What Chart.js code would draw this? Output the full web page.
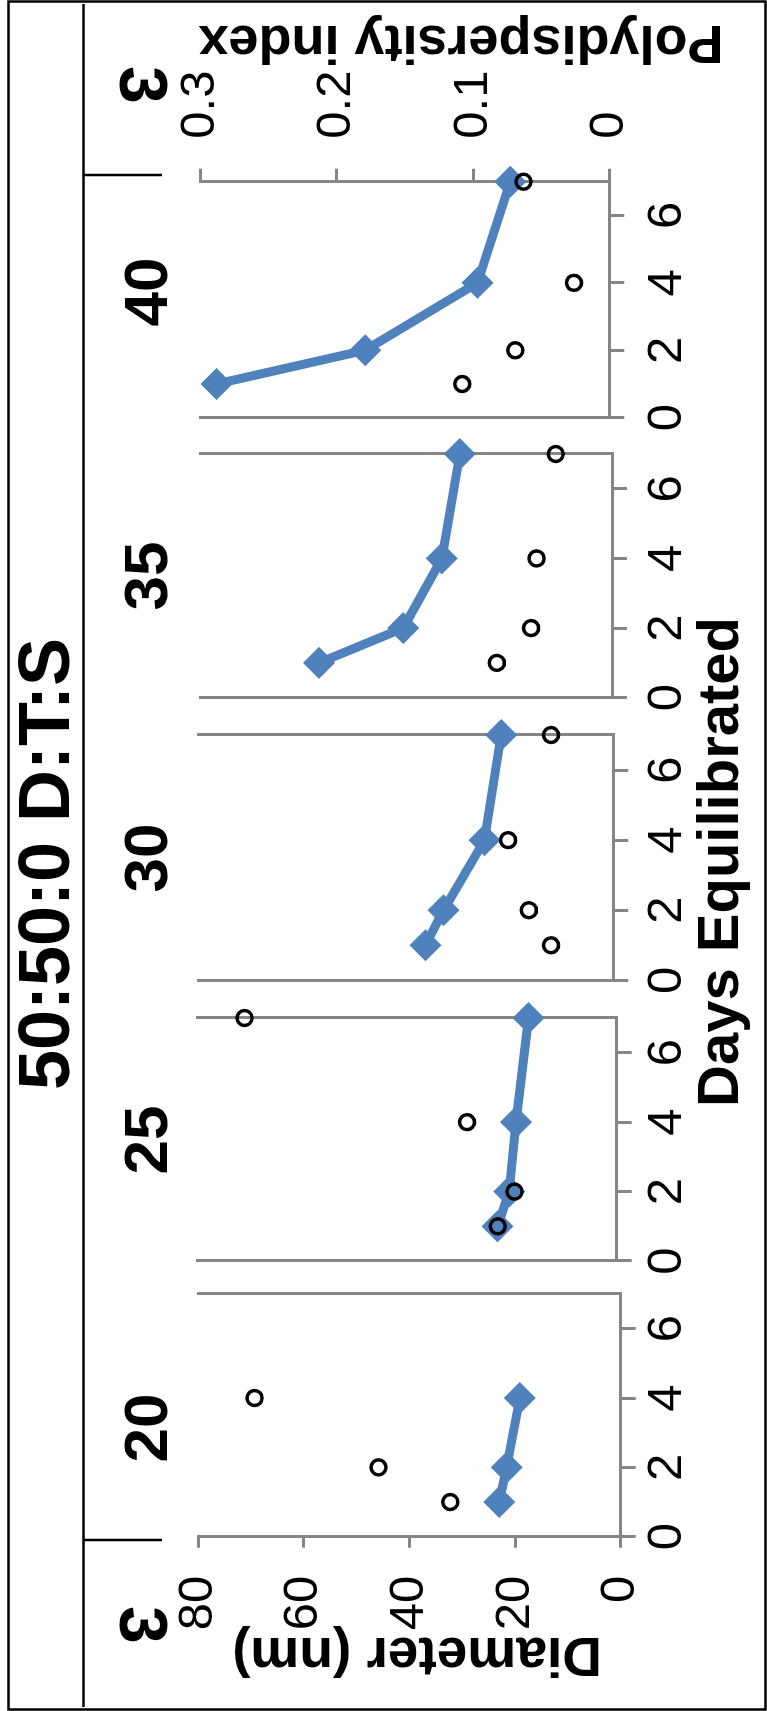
<!DOCTYPE html>
<html>
<head>
<meta charset="utf-8">
<script src="https://cdn.jsdelivr.net/npm/chart.js@4.4.1/dist/chart.umd.min.js"></script>
<style>
  html, body { margin: 0; padding: 0; background: #fff; }
  body { width: 767px; height: 1711px; overflow: hidden; position: relative; }
  /* the figure is laid out landscape and turned a quarter to the left */
  #wrap { position: absolute; left: 0; top: 0; width: 1711px; height: 767px;
          transform-origin: 0 0; transform: translate(0, 1711px) rotate(-90deg); }
  #wrap canvas { position: absolute; left: 0; top: 0; }
</style>
</head>
<body>
<div id="wrap"></div>
<script>
// values
const panelNames = ["20", "25", "30", "35", "40"];

const days20 = [1, 2, 4];
const diam20 = [23.0, 21.6, 19.1];
const pdi20 = [0.121, 0.172, 0.26];

const days25 = [1, 2, 4, 7];
const diam25 = [22.7, 20.5, 19.2, 16.8];
const pdi25 = [0.085, 0.073, 0.107, 0.266];

const days30 = [1, 2, 4, 7];
const diam30 = [36.2, 32.7, 24.8, 21.6];
const pdi30 = [0.045, 0.061, 0.076, 0.045];

const days35 = [1, 2, 4, 7];
const diam35 = [57.0, 40.6, 33.1, 29.6];
const pdi35 = [0.084, 0.059, 0.055, 0.041];

const days40 = [1, 2, 4, 7];
const diam40 = [76.9, 47.8, 25.8, 19.4];
const pdi40 = [0.108, 0.069, 0.026, 0.063];

const dayTicks = [0, 2, 4, 6];
const diamTicks = [0, 20, 40, 60, 80];
const pdiTicks = [0, 0.1, 0.2, 0.3];

const panels = [
  { days: days20, diam: diam20, pdi: pdi20 },
  { days: days25, diam: diam25, pdi: pdi25 },
  { days: days30, diam: diam30, pdi: pdi30 },
  { days: days35, diam: diam35, pdi: pdi35 },
  { days: days40, diam: diam40, pdi: pdi40 },
];

// plot areas in the landscape frame (left, right, top, bottom)
const boxes = [
  { L: 174.3, R: 417, T: 198.3, B: 620.7 },
  { L: 450, R: 693, T: 197, B: 616.7 },
  { L: 730.7, R: 976, T: 198, B: 613.3 },
  { L: 1013.3, R: 1257, T: 200.7, B: 612 },
  { L: 1293.3, R: 1529.3, T: 200.7, B: 609.3 },
];
const labelX = [283, 571, 853, 1135, 1419];

const W = 1711, H = 767;
const BLUE = "#4F81BD";
const AXIS = "#868686";
const FONT = "'Liberation Sans', Arial, sans-serif";
const AXW = 120, AXH = 120;
const TICK_SIZE = 49;
const DAY_LABEL_Y = 667;

const wrap = document.getElementById("wrap");

function fixW(s) { s.width = AXW; }
function fixH(s) { s.height = AXH; }

function txt(ctx, s, x, y, size, rot) {
  ctx.save();
  ctx.translate(x, y);
  ctx.rotate(rot || 0);
  ctx.font = "bold " + size + "px " + FONT;
  ctx.fillStyle = "#000";
  ctx.textAlign = "center";
  ctx.textBaseline = "middle";
  ctx.fillText(s, 0, 0);
  ctx.restore();
}

// frame, bracket line, headings
const decor = {
  id: "decor",
  afterDraw(chart) {
    const ctx = chart.ctx;
    ctx.save();
    ctx.strokeStyle = "#000";
    ctx.lineWidth = 2.5;
    ctx.strokeRect(1.5, 8.5, 1708, 757);
    ctx.lineWidth = 2.5;
    ctx.beginPath();
    ctx.moveTo(4, 83.5); ctx.lineTo(1707, 83.5);
    ctx.moveTo(171, 83.5); ctx.lineTo(171, 162);
    ctx.moveTo(1536, 83.5); ctx.lineTo(1536, 162);
    ctx.stroke();
    ctx.restore();

    txt(ctx, "50:50:0 D:T:S", 847, 49, 72);
    txt(ctx, "3", 86, 139, 68, Math.PI);
    txt(ctx, "3", 1626, 139, 68, Math.PI);
    panelNames.forEach((n, i) => txt(ctx, n, labelX[i], 150, 62));
    txt(ctx, "Days Equilibrated", 849, 722, 58);
    txt(ctx, "Diameter (nm)", 58, 417, 55, -Math.PI / 2);
    txt(ctx, "Polydispersity index", 1670, 461, 54, -Math.PI / 2);
  },
};

panels.forEach((p, i) => {
  const box = boxes[i];
  const first = i === 0;
  const last = i === panels.length - 1;
  const canvas = document.createElement("canvas");
  canvas.width = W;
  canvas.height = H;
  wrap.appendChild(canvas);

  const lineData = p.days.map((d, k) => ({ x: d, y: p.diam[k] }));
  const pdiData = p.days.map((d, k) => ({ x: d, y: p.pdi[k] }));
  const lh = TICK_SIZE * 1.2;

  new Chart(canvas, {
    type: "line",
    data: {
      datasets: [
        {
          label: "Polydispersity index",
          data: pdiData,
          yAxisID: "pdi",
          showLine: false,
          pointStyle: "circle",
          pointRadius: 7.5,
          pointBorderWidth: 3.5,
          pointBorderColor: "#000",
          pointBackgroundColor: "rgba(0,0,0,0)",
          borderColor: "#000",
          order: 0,
          clip: false,
        },
        {
          label: "Diameter (nm)",
          data: lineData,
          yAxisID: "diam",
          borderColor: BLUE,
          backgroundColor: BLUE,
          borderWidth: 9,
          pointStyle: "rectRot",
          pointRadius: 16,
          pointBorderWidth: 0,
          pointBackgroundColor: BLUE,
          order: 1,
          clip: false,
        },
      ],
    },
    options: {
      responsive: false,
      animation: false,
      devicePixelRatio: 1,
      layout: {
        padding: { left: box.L - AXW, right: W - box.R - AXW, top: box.T, bottom: H - box.B - AXH },
      },
      plugins: { legend: { display: false }, tooltip: { enabled: false } },
      scales: {
        x: {
          type: "linear",
          position: "bottom",
          min: 0,
          max: 7,
          afterFit: fixH,
          afterBuildTicks: (s) => { s.ticks = dayTicks.map((v) => ({ value: v })); },
          grid: { drawOnChartArea: false, tickLength: 15, color: AXIS, lineWidth: 3 },
          border: { color: AXIS, width: 3 },
          ticks: {
            color: "#000",
            font: { family: FONT, size: TICK_SIZE },
            padding: DAY_LABEL_Y - box.B - 15 - lh / 2,
            maxRotation: 0,
            autoSkip: false,
          },
        },
        diam: {
          type: "linear",
          position: "left",
          min: 0,
          max: 80,
          afterFit: fixW,
          afterBuildTicks: (s) => { s.ticks = diamTicks.map((v) => ({ value: v })); },
          grid: { display: first, drawOnChartArea: false, tickLength: 11, color: AXIS, lineWidth: 3 },
          border: { color: AXIS, width: 3 },
          ticks: { display: first, color: "#000", font: { family: FONT, size: TICK_SIZE }, padding: 28 },
        },
        pdi: {
          type: "linear",
          position: "right",
          min: 0,
          max: 0.3,
          afterFit: fixW,
          afterBuildTicks: (s) => { s.ticks = pdiTicks.map((v) => ({ value: v })); },
          grid: { display: last, drawOnChartArea: false, tickLength: 13, color: AXIS, lineWidth: 3 },
          border: { color: AXIS, width: 3 },
          ticks: { display: last, color: "#000", font: { family: FONT, size: TICK_SIZE }, padding: 30 },
        },
      },
    },
    plugins: first ? [decor] : [],
  });
});
</script>
</body>
</html>
